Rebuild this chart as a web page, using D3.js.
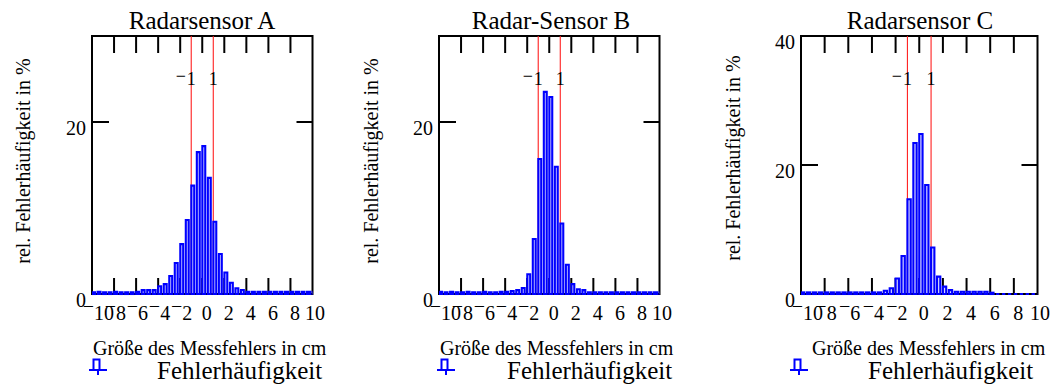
<!DOCTYPE html>
<html><head><meta charset="utf-8">
<script src="https://cdn.jsdelivr.net/npm/d3@7"></script>
<style>
body{margin:0;background:#fff;}
text{font-family:"Liberation Serif","Times New Roman",serif;fill:#000;}
</style></head><body>
<svg id="c" width="1053" height="387" xmlns="http://www.w3.org/2000/svg"></svg>
<script>
// ---- data ----
const binCenters = [-10,-9.5,-9,-8.5,-8,-7.5,-7,-6.5,-6,-5.5,-5,-4.5,-4,-3.5,-3,-2.5,-2,-1.5,-1,-0.5,
  0,0.5,1,1.5,2,2.5,3,3.5,4,4.5,5,5.5,6,6.5,7,7.5,8,8.5,9,9.5,10];
const titles = ["Radarsensor A","Radar-Sensor B","Radarsensor C"];
const valuesA = [0.2,0.25,0.2,0.2,0.25,0.2,0.2,0.2,0.25, 0.45,0.45,0.45,
  0.9,1.15,2.1,3.6,5.8,8.6,12.6,16.5,
  17.2,13.5,8.4,4.65,2.5,1.3,0.66,0.47,
  0.25,0.25,0.25,0.25,0.25,0.25,0.25,0.25,0.25,0.25,0.25,0.25,0.25];
const valuesB = [0.25,0.2,0.25,0.2,0.2,0.25,0.2,0.2,0.25,0.2,0.2,0.25,0.25,
  0.35,0.45,0.7,2.3,6.4,15.7,23.5,
  22.9,14.8,8.2,3.4,1.15,0.55,0.45,
  0.2,0.2,0.2,0.2,0.2,0.2,0.2,0.2,0.2,0.2,0.2,0.2,0.2,0.2];
const valuesC = [0.25,0.25,0.25,0.25,0.25,0.25,0.25,0.25,0.25,0.25,0.25,0.25,0.25,0.25,
  0.5,0.9,2.4,5.9,14.7,23.4,
  24.8,16.9,7.2,2.7,1.15,0.6,
  0.35,0.35,0.35,0.35,0.35,0.35,0.2,
  0,0,0,0,0,0,0,0];
const xTickValues = [-10,-8,-6,-4,-2,0,2,4,6,8,10];
const yTicksAB = [0,20];
const yTicksC = [0,20,40];
const yMaxAB = 30, yMaxC = 40;
const markerValues = [-1,1];
const xAxisTitle = "Größe des Messfehlers in cm";
const yAxisTitle = "rel. Fehlerhäufigkeit in %";
const legendLabel = "Fehlerhäufigkeit";

// ---- layout ----
const panels = [
  {title:titles[0], values:valuesA, yMax:yMaxAB, yTicks:yTicksAB, l:92, r:312.5, titleX:202, xlabX:93, legX:89, legTextX:157, yLabX:22.5, yLabY:161},
  {title:titles[1], values:valuesB, yMax:yMaxAB, yTicks:yTicksAB, l:439, r:659.5, titleX:551, xlabX:440, legX:437, legTextX:507, yLabX:371, yLabY:161},
  {title:titles[2], values:valuesC, yMax:yMaxC, yTicks:yTicksC, l:801, r:1037.5, titleX:920, xlabX:812, legX:790, legTextX:868, yLabX:733, yLabY:158}
];
const plotTop = 36, plotBottom = 294;
const blue = "#0000ff";
const svg = d3.select("#c");

panels.forEach((p, i) => {
  const xs = d3.scaleLinear().domain([-10,10]).range([p.l, p.r]);
  const ys = d3.scaleLinear().domain([0,p.yMax]).range([plotBottom, plotTop]);
  const g = svg.append("g");

  // clip
  const cid = "clip" + i;
  svg.append("defs").append("clipPath").attr("id", cid)
    .append("rect").attr("x", p.l).attr("y", plotTop - 2).attr("width", p.r - p.l).attr("height", plotBottom - plotTop + 4);

  // frame
  g.append("rect").attr("x", p.l).attr("y", plotTop).attr("width", p.r - p.l).attr("height", plotBottom - plotTop)
    .attr("fill", "none").attr("stroke", "#000").attr("stroke-width", 2);

  // x ticks (inside, top and bottom)
  const inner = xTickValues.filter(v => v > -10 && v < 10);
  g.selectAll(".tt").data(inner).enter().append("line")
    .attr("x1", d => xs(d)).attr("x2", d => xs(d)).attr("y1", plotTop).attr("y2", plotTop + 17)
    .attr("stroke", "#000").attr("stroke-width", 2);
  g.selectAll(".tb").data(inner).enter().append("line")
    .attr("x1", d => xs(d)).attr("x2", d => xs(d)).attr("y1", plotBottom).attr("y2", plotBottom - 16)
    .attr("stroke", "#000").attr("stroke-width", 2);

  // y ticks (inside, left and right)
  const yin = p.yTicks.filter(v => v > 0 && v < p.yMax);
  g.selectAll(".yl").data(yin).enter().append("line")
    .attr("x1", p.l).attr("x2", p.l + 17).attr("y1", d => ys(d)).attr("y2", d => ys(d))
    .attr("stroke", "#000").attr("stroke-width", 2);
  g.selectAll(".yr").data(yin).enter().append("line")
    .attr("x1", p.r).attr("x2", p.r - 16).attr("y1", d => ys(d)).attr("y2", d => ys(d))
    .attr("stroke", "#000").attr("stroke-width", 2);

  // red marker lines
  g.selectAll(".mk").data(markerValues).enter().append("line")
    .attr("x1", d => xs(d)).attr("x2", d => xs(d)).attr("y1", plotTop).attr("y2", plotBottom)
    .attr("stroke", "#ff2020").attr("stroke-width", 1.1);

  // marker labels
  markerValues.forEach(m => {
    const t = g.append("text").attr("y", 85).attr("font-size", 18).attr("text-anchor", "middle");
    if (m < 0) {
      t.append("tspan").attr("x", xs(m) - 10.5).attr("dy", -3.5).text("−");
      t.append("tspan").attr("x", xs(m)).attr("dy", 3.5).text(String(Math.abs(m)));
    } else {
      t.append("tspan").attr("x", xs(m)).text(String(m));
    }
  });

  // bars
  const off = 0.14, half = 0.25;
  const bars = g.append("g").attr("clip-path", `url(#${cid})`);
  bars.selectAll("path").data(binCenters.map((c, j) => ({c, v: p.values[j]}))).enter().append("path")
    .attr("d", d => {
      const x0 = xs(d.c + off - half) + 1.3, x1 = xs(d.c + off + half) - 1.3;
      const y0 = ys(0), y1 = ys(d.v);
      return `M${x0},${y0}V${y1}H${x1}V${y0}Z`;
    })
    .attr("fill", "#d4d4ff").attr("stroke", blue).attr("stroke-width", 2.1);

  // y tick labels
  g.selectAll(".ylab").data(p.yTicks).enter().append("text")
    .attr("x", p.l - 6).attr("y", d => ys(d) + 13).attr("text-anchor", "end").attr("font-size", 20)
    .text(d => d);

  // x tick labels
  xTickValues.forEach(v => {
    const t = g.append("text").attr("font-size", 20).attr("y", 319.5);
    if (v < 0) {
      t.attr("x", xs(v) + 2 - 11.3).attr("text-anchor", "start");
      t.append("tspan").attr("dy", -7).text("−");
      t.append("tspan").attr("dy", 7).text(String(-v));
    } else if (v === 10) {
      t.attr("x", xs(v) + 12.5).attr("text-anchor", "end").text(String(v));
    } else {
      t.attr("x", xs(v) - 0.5).attr("text-anchor", "start").text(String(v));
    }
  });

  // title
  g.append("text").attr("x", p.titleX).attr("y", 29).attr("text-anchor", "middle")
    .attr("font-size", 25).text(p.title);

  // x axis title
  g.append("text").attr("x", p.xlabX).attr("y", 355).attr("font-size", 20).text(xAxisTitle);

  // y axis title
  g.append("text").attr("transform", `translate(${p.yLabX},${p.yLabY}) rotate(-90)`)
    .attr("text-anchor", "middle").attr("dominant-baseline", "central").attr("font-size", 20).text(yAxisTitle);

  // legend
  const lx = p.legX;
  g.append("path").attr("d", `M${lx},370H${lx+18}M${lx+4.5},370V359.5H${lx+10.5}V370M${lx+9},370V375`)
    .attr("fill", "none").attr("stroke", blue).attr("stroke-width", 2);
  g.append("text").attr("x", p.legTextX).attr("y", 379).attr("font-size", 25).text(legendLabel);
});
</script>
</body></html>
